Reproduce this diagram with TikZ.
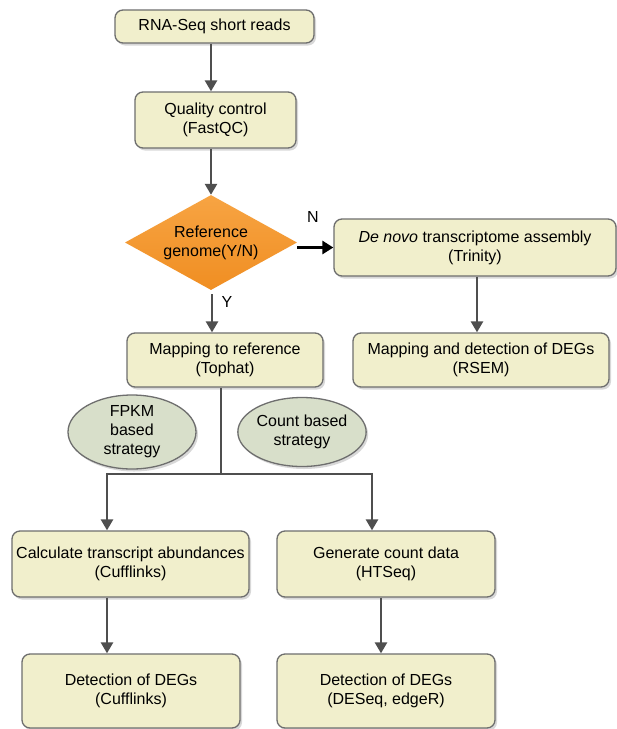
\documentclass[tikz,border=0pt]{standalone}
\usepackage{fontspec}
\setmainfont{Liberation Sans}
\usetikzlibrary{shapes.geometric,arrows.meta,shadows,calc}
\definecolor{boxfill}{HTML}{F1EFCC}
\definecolor{boxdraw}{HTML}{6E6E6E}
\definecolor{ellfill}{HTML}{D8DFCA}
\definecolor{orangetop}{HTML}{F7A443}
\definecolor{orangebot}{HTML}{F08E22}
\definecolor{arrowgray}{HTML}{4F4F4F}
\begin{document}
\begin{tikzpicture}[x=1pt,y=-1pt,
  font=\fontsize{16}{19}\selectfont,
  every node/.style={inner sep=0pt, align=center},
  box/.style={rectangle, rounded corners=8pt, draw=boxdraw, line width=1.3pt, fill=boxfill,
    drop shadow={shadow xshift=2pt, shadow yshift=-2.5pt, opacity=0.3}},
  oval/.style={ellipse, draw=boxdraw, line width=1.3pt, fill=ellfill,
    drop shadow={shadow xshift=2pt, shadow yshift=-2.5pt, opacity=0.3}},
  decision/.style={diamond, aspect=1.81, top color=orangetop, bottom color=orangebot,
    minimum width=172pt, minimum height=95pt},
  flow/.style={draw=arrowgray, line width=2.6pt, -{Triangle[width=12pt,length=11pt]}},
  plain/.style={draw=arrowgray, line width=2.4pt},
  noarrow/.style={draw=black, line width=3pt, -{Triangle[width=13pt,length=11pt]}}
]
\useasboundingbox (0,0) rectangle (617,729);
\fill[white] (0,0) rectangle (617,729);

\node[box, minimum width=199pt, minimum height=33pt] (b1) at (214.5,26.5) {RNA-Seq short reads};
\node[box, minimum width=161pt, minimum height=56pt] (b2) at (215.5,120) {Quality control\\(FastQC)};
\node[decision] (dia) at (211,242.5) {Reference\\genome(Y/N)};
\node[box, minimum width=282pt, minimum height=57pt] (denovo) at (475,247.5) {\textit{De novo} transcriptome assembly\\(Trinity)};
\node[box, minimum width=256pt, minimum height=54pt] (rsem) at (481,360) {Mapping and detection of DEGs\\(RSEM)};
\node[box, minimum width=196pt, minimum height=54pt] (tophat) at (225,360) {Mapping to reference\\(Tophat)};
\node[oval, minimum width=128pt, minimum height=69pt] (fpkm) at (132,432) {FPKM\\based\\strategy};
\node[oval, minimum width=126pt, minimum height=69pt] (count) at (302,432) {Count based\\strategy};
\node[box, minimum width=237pt, minimum height=66pt] (calc) at (130.5,564) {Calculate transcript abundances\\(Cufflinks)};
\node[box, minimum width=218pt, minimum height=66pt] (gen) at (386,564) {Generate count data\\(HTSeq)};
\node[box, minimum width=218pt, minimum height=74pt] (det1) at (131,691) {Detection of DEGs\\(Cufflinks)};
\node[box, minimum width=218pt, minimum height=74pt] (det2) at (386,691) {Detection of DEGs\\(DESeq, edgeR)};

\node (nlab) at (313,217) {N};
\node (ylab) at (227,302) {Y};

\coordinate (split) at (221,474);
\coordinate (lft) at (107,474);
\coordinate (rgt) at (372,474);

\draw[flow] (b1.south -| dia.north) -- (b2.north -| dia.north);
\draw[flow] (b2.south -| dia.north) -- (dia.north);
\draw[noarrow] (denovo.west -| dia.east) -- (denovo.west);
\draw[flow] ($(dia.south)+(1,4)$) -- (tophat.north -| 212,0);
\draw[flow] (denovo.south -| 477,0) -- (rsem.north -| 477,0);
\draw[plain] (tophat.south -| split) -- (split);
\draw[plain] (lft) -- (rgt);
\draw[flow] ($(lft)+(0,-1.2)$) -- (calc.north -| lft);
\draw[flow] ($(rgt)+(0,-1.2)$) -- (gen.north -| rgt);
\draw[flow] (calc.south -| lft) -- (det1.north -| lft);
\draw[flow] (gen.south -| 381,0) -- (det2.north -| 381,0);
\end{tikzpicture}
\end{document}
